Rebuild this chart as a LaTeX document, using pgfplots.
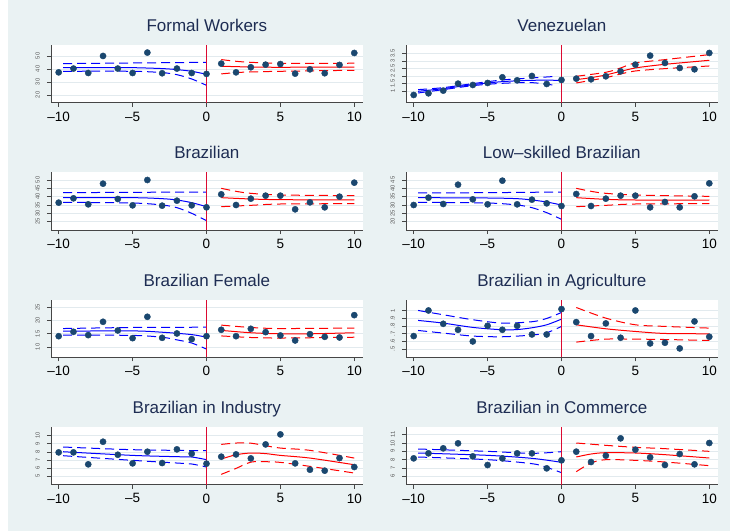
\documentclass[border=0pt]{standalone}
\usepackage{pgfplots}
\pgfplotsset{compat=1.18}
\usepackage{fontspec}
\setmainfont{Liberation Sans}
\definecolor{bgcol}{RGB}{234,242,243}
\definecolor{gridcol}{RGB}{226,234,238}
\definecolor{axiscol}{RGB}{70,70,70}
\definecolor{titlecol}{RGB}{30,45,83}
\definecolor{markcol}{RGB}{26,71,111}
\definecolor{vcol}{RGB}{220,10,50}
\definecolor{ytcol}{RGB}{85,85,85}
\definecolor{fitblue}{RGB}{0,0,255}
\definecolor{fitred}{RGB}{255,0,0}
\pgfplotsset{
 panel/.style={
  scale only axis, width=311.7pt, height=57.5pt,
  xmin=-10.52, xmax=10.57,
  anchor=south west,
  axis x line=bottom, axis y line=left,
  axis line style={-, draw=axiscol, line width=0.9pt},
  axis background/.style={fill=white},
  xtick={-10,-5,0,5,10}, xticklabels={–10,–5,0,5,10},
  tick align=outside, major tick length=4pt,
  tick style={draw=axiscol, line width=0.8pt},
  ymajorgrids, grid style={draw=gridcol, line width=0.8pt},
  title style={font=\fontsize{17}{17}\selectfont, color=titlecol, at={(0.5,1)}, anchor=base, yshift=7.5pt},
  xticklabel style={font=\fontsize{13.5}{13.5}\selectfont, color=black, anchor=north, inner sep=0pt, yshift=-5pt},
  yticklabel style={font=\fontsize{5.8}{5.8}\selectfont, color=ytcol, inner sep=0pt, xshift=-7pt, rotate=90, anchor=south},
 },
 pts/.style={only marks, mark=*, mark size=3.1pt, draw=markcol, fill=markcol},
 bfit/.style={fitblue, line width=1pt, smooth, no marks},
 bci/.style={fitblue, line width=1pt, smooth, no marks, dash pattern=on 9pt off 5pt},
 rfit/.style={fitred, line width=1pt, smooth, no marks},
 rci/.style={fitred, line width=1pt, smooth, no marks, dash pattern=on 9pt off 5pt},
 vl/.style={draw=vcol, line width=1.2pt, no marks, solid},
}
\begin{document}
\begin{tikzpicture}
\fill[bgcol] (8pt,0pt) rectangle (730pt,531pt);
\fill[white] (0pt,0pt) rectangle (8pt,531pt);

% Panel 1: Formal Workers
\begin{axis}[panel, at={(51pt,428.2pt)}, ymin=13.97, ymax=58.2, ytick={20,30,40,50}, yticklabels={20,30,40,50}, title={Formal Workers}]
\addplot[pts] coordinates {(-10,37.4)(-9,40.3)(-8,36.9)(-7,50.0)(-6,40.3)(-5,36.9)(-4,52.6)(-3,36.7)(-2,40.3)(-1,36.9)(0,36.2)(1,44.1)(2,37.4)(3,41.3)(4,43.3)(5,43.8)(6,36.4)(7,39.7)(8,36.7)(9,43.1)(10,52.3)};
\addplot[bfit] coordinates {(-9.7,41.0)(-7,41.1)(-5,41.0)(-3,40.3)(-2,39.5)(-1,38.2)(0,35.9)};
\addplot[bci] coordinates {(-9.7,44.1)(-5,44.6)(0,45.1)};
\addplot[bci] coordinates {(-9.7,38.2)(-5,38.2)(-3,37.2)(-2,35.6)(-1,32.3)(0,27.4)};
\addplot[rfit] coordinates {(1,42.1)(3,41.5)(5,41.3)(10,41.5)};
\addplot[rci] coordinates {(1,47.2)(2,45.9)(3,45.1)(5,44.4)(10,44.4)};
\addplot[rci] coordinates {(1,36.2)(2,37.2)(3,37.7)(5,38.2)(10,39.0)};
\addplot[vl] coordinates {(0,13.97)(0,58.2)};
\end{axis}

% Panel 2: Venezuelan
\begin{axis}[panel, at={(406pt,428.2pt)}, ymin=0.237, ymax=4.053, ytick={1,1.5,2,2.5,3,3.5}, yticklabels={1,1.5,2,2.5,3,3.5}, title={Venezuelan}]
\addplot[pts] coordinates {(-10,0.757)(-9,0.867)(-8,1.044)(-7,1.509)(-6,1.420)(-5,1.553)(-4,1.929)(-3,1.730)(-2,2.018)(-1,1.487)(0,1.752)(1,1.841)(2,1.796)(3,1.996)(4,2.327)(5,2.770)(6,3.367)(7,2.881)(8,2.549)(9,2.460)(10,3.544)};
\addplot[bfit] coordinates {(-9.7,1.0)(-8,1.177)(-6,1.442)(-4,1.642)(-2,1.730)(0,1.730)};
\addplot[bci] coordinates {(-9.7,1.111)(-8,1.243)(-6,1.509)(-4,1.752)(-2,1.885)(-0.3,1.996)};
\addplot[bci] coordinates {(-9.7,0.889)(-8,1.111)(-6,1.376)(-4,1.531)(-2,1.575)(-0.3,1.376)};
\addplot[rfit] coordinates {(1,1.774)(2,1.907)(3,2.084)(4,2.327)(5,2.549)(6,2.681)(7,2.792)(8,2.881)(9,2.969)(10,3.058)};
\addplot[rci] coordinates {(1,1.996)(3,2.261)(4,2.549)(5,2.881)(7,3.102)(10,3.434)};
\addplot[rci] coordinates {(1,1.553)(3,1.907)(4,2.150)(5,2.350)(7,2.504)(10,2.681)};
\addplot[vl] coordinates {(0,0.237)(0,4.053)};
\end{axis}

% Panel 3: Brazilian
\begin{axis}[panel, at={(51pt,301pt)}, ymin=20, ymax=54.5, ytick={25,30,35,40,45,50}, yticklabels={25,30,35,40,45,50}, title={Brazilian}]
\addplot[pts] coordinates {(-10,36.4)(-9,39.0)(-8,35.4)(-7,47.8)(-6,38.6)(-5,34.8)(-4,50.0)(-3,34.6)(-2,37.6)(-1,34.8)(0,33.6)(1,41.4)(2,35.0)(3,38.8)(4,40.6)(5,40.6)(6,32.4)(7,36.6)(8,33.6)(9,40.0)(10,48.4)};
\addplot[bfit] coordinates {(-9.7,39.4)(-5,39.4)(-3,38.8)(-2,38.0)(-1,36.4)(0,34.0)};
\addplot[bci] coordinates {(-9.7,42.4)(-5,42.6)(0,42.8)};
\addplot[bci] coordinates {(-9.7,36.6)(-5,36.2)(-3,35.0)(-2,33.4)(-1,30.0)(0,25.6)};
\addplot[rfit] coordinates {(1,39.4)(3,38.6)(5,38.2)(10,38.0)};
\addplot[rci] coordinates {(1,45.0)(2,43.2)(3,42.0)(5,41.0)(10,40.6)};
\addplot[rci] coordinates {(1,34.0)(3,34.8)(5,35.6)(10,35.8)};
\addplot[vl] coordinates {(0,20)(0,54.5)};
\end{axis}

% Panel 4: Low-skilled Brazilian
\begin{axis}[panel, at={(406pt,301pt)}, ymin=15, ymax=49.5, ytick={20,25,30,35,40,45}, yticklabels={20,25,30,35,40,45}, title={Low–skilled Brazilian}]
\addplot[pts] coordinates {(-10,30.0)(-9,34.4)(-8,30.6)(-7,42.2)(-6,33.4)(-5,30.4)(-4,44.6)(-3,30.4)(-2,33.2)(-1,31.0)(0,29.4)(1,36.6)(2,29.4)(3,33.8)(4,35.6)(5,35.6)(6,28.6)(7,31.8)(8,28.6)(9,35.2)(10,43.0)};
\addplot[bfit] coordinates {(-9.7,34.4)(-5,34.2)(-3,33.8)(-2,33.0)(-1,31.8)(0,30.0)};
\addplot[bci] coordinates {(-9.7,37.2)(-5,37.4)(0,37.8)};
\addplot[bci] coordinates {(-9.7,31.6)(-5,31.2)(-3,30.0)(-2,28.4)(-1,25.4)(0,21.4)};
\addplot[rfit] coordinates {(1,34.4)(3,33.4)(5,33.0)(10,33.0)};
\addplot[rci] coordinates {(1,40.0)(2,38.2)(3,37.0)(5,36.0)(10,35.2)};
\addplot[rci] coordinates {(1,29.0)(3,29.8)(5,30.6)(10,30.8)};
\addplot[vl] coordinates {(0,15)(0,49.5)};
\end{axis}

% Panel 5: Brazilian Female
\begin{axis}[panel, at={(51pt,173.7pt)}, ymin=6.08, ymax=27.91, ytick={10,15,20,25}, yticklabels={10,15,20,25}, title={Brazilian Female}]
\addplot[pts] coordinates {(-10,14.1)(-9,15.76)(-8,14.5)(-7,19.56)(-6,16.27)(-5,13.35)(-4,21.46)(-3,13.48)(-2,15.13)(-1,12.97)(0,14.1)(1,16.52)(2,14.1)(3,16.9)(4,15.63)(5,14.37)(6,12.47)(7,14.87)(8,13.86)(9,13.61)(10,22.09)};
\addplot[bfit] coordinates {(-9.7,16.0)(-5,16.1)(-3,15.6)(-1,14.7)(0,13.7)};
\addplot[bci] coordinates {(-9.7,17.0)(-5,17.4)(0,17.5)};
\addplot[bci] coordinates {(-9.7,14.5)(-5,14.4)(-3,13.7)(-2,12.7)(-1,11.5)(0,9.2)};
\addplot[rfit] coordinates {(1,16.3)(3,15.4)(5,15.0)(7,15.0)(10,15.4)};
\addplot[rci] coordinates {(1,18.3)(3,17.4)(5,17.0)(10,17.2)};
\addplot[rci] coordinates {(1,14.2)(3,13.6)(5,13.4)(10,13.7)};
\addplot[vl] coordinates {(0,6.08)(0,27.91)};
\end{axis}

% Panel 6: Brazilian in Agriculture
\begin{axis}[panel, at={(406pt,173.7pt)}, ymin=0.393, ymax=1.143, ytick={0.5,0.6,0.7,0.8,0.9,1}, yticklabels={.5,.6,.7,.8,.9,1}, title={Brazilian in Agriculture}]
\addplot[pts] coordinates {(-10,0.670)(-9,1.004)(-8,0.830)(-7,0.752)(-6,0.600)(-5,0.804)(-4,0.752)(-3,0.804)(-2,0.691)(-1,0.691)(0,1.022)(1,0.852)(2,0.670)(3,0.835)(4,0.648)(5,1.004)(6,0.574)(7,0.583)(8,0.509)(9,0.861)(10,0.661)};
\addplot[bfit] coordinates {(-9.7,0.874)(-8,0.839)(-6,0.783)(-4,0.752)(-3,0.755)(-2,0.778)(-1,0.817)(0,0.891)};
\addplot[bci] coordinates {(-9.7,1.004)(-8,0.948)(-6,0.883)(-4,0.839)(-2,0.857)(-1,0.900)(0,0.978)};
\addplot[bci] coordinates {(-9.7,0.743)(-8,0.709)(-6,0.670)(-4,0.661)(-2,0.683)(-1,0.713)(0,0.796)};
\addplot[rfit] coordinates {(1,0.817)(3,0.765)(5,0.730)(7,0.704)(10,0.700)};
\addplot[rci] coordinates {(1,1.043)(3,0.904)(5,0.817)(7,0.796)(10,0.774)};
\addplot[rci] coordinates {(1,0.591)(3,0.630)(5,0.630)(7,0.625)(10,0.613)};
\addplot[vl] coordinates {(0,0.393)(0,1.143)};
\end{axis}

% Panel 7: Brazilian in Industry
\begin{axis}[panel, at={(51pt,46.5pt)}, ymin=4.0, ymax=11.07, ytick={5,6,7,8,9,10}, yticklabels={5,6,7,8,9,10}, title={Brazilian in Industry}]
\addplot[pts] coordinates {(-10,7.95)(-9,7.95)(-8,6.48)(-7,9.26)(-6,7.66)(-5,6.60)(-4,8.03)(-3,6.64)(-2,8.32)(-1,7.79)(0,6.56)(1,7.42)(2,7.70)(3,7.21)(4,8.93)(5,10.16)(6,6.60)(7,5.82)(8,5.70)(9,7.25)(10,6.15)};
\addplot[bfit] coordinates {(-9.7,8.03)(-5,7.58)(-2,7.42)(-1,7.38)(0,7.05)};
\addplot[bci] coordinates {(-9.7,8.61)(-5,8.28)(0,8.16)};
\addplot[bci] coordinates {(-9.7,7.54)(-5,6.97)(-2,6.64)(-1,6.52)(0,6.15)};
\addplot[rfit] coordinates {(1,7.13)(2,7.66)(3,7.87)(4,7.80)(5,7.58)(7,7.25)(10,6.43)};
\addplot[rci] coordinates {(1,8.93)(2,9.10)(3,9.08)(4,8.77)(5,8.48)(7,8.20)(10,7.25)};
\addplot[rci] coordinates {(1,5.25)(2,5.98)(3,6.75)(4,6.80)(5,6.72)(7,6.23)(10,5.41)};
\addplot[vl] coordinates {(0,4.0)(0,11.07)};
\end{axis}

% Panel 8: Brazilian in Commerce
\begin{axis}[panel, at={(406pt,46.5pt)}, ymin=5.02, ymax=11.92, ytick={6,7,8,9,10,11}, yticklabels={6,7,8,9,10,11}, title={Brazilian in Commerce}]
\addplot[pts] coordinates {(-10,8.16)(-9,8.76)(-8,9.36)(-7,9.96)(-6,8.40)(-5,7.36)(-4,8.16)(-3,8.76)(-2,8.76)(-1,6.96)(0,7.92)(1,8.96)(2,7.72)(3,8.48)(4,10.56)(5,9.20)(6,8.28)(7,7.36)(8,8.68)(9,7.44)(10,10.0)};
\addplot[bfit] coordinates {(-9.7,8.80)(-5,8.52)(-2,8.16)(0,7.68)};
\addplot[bci] coordinates {(-9.7,9.28)(-5,9.00)(-2,8.76)(0,8.96)};
\addplot[bci] coordinates {(-9.7,8.32)(-5,8.00)(-2,7.52)(-1,7.08)(0,6.44)};
\addplot[rfit] coordinates {(1,8.32)(2,8.68)(3,8.84)(5,8.80)(7,8.60)(10,8.20)};
\addplot[rci] coordinates {(1,10.0)(3,9.72)(5,9.48)(7,9.32)(10,9.0)};
\addplot[rci] coordinates {(1,6.56)(2,7.60)(3,8.0)(5,7.92)(7,7.72)(10,7.28)};
\addplot[vl] coordinates {(0,5.02)(0,11.92)};
\end{axis}

\pgfresetboundingbox
\path (0pt,0pt) rectangle (730pt,531pt);
\end{tikzpicture}
\end{document}
